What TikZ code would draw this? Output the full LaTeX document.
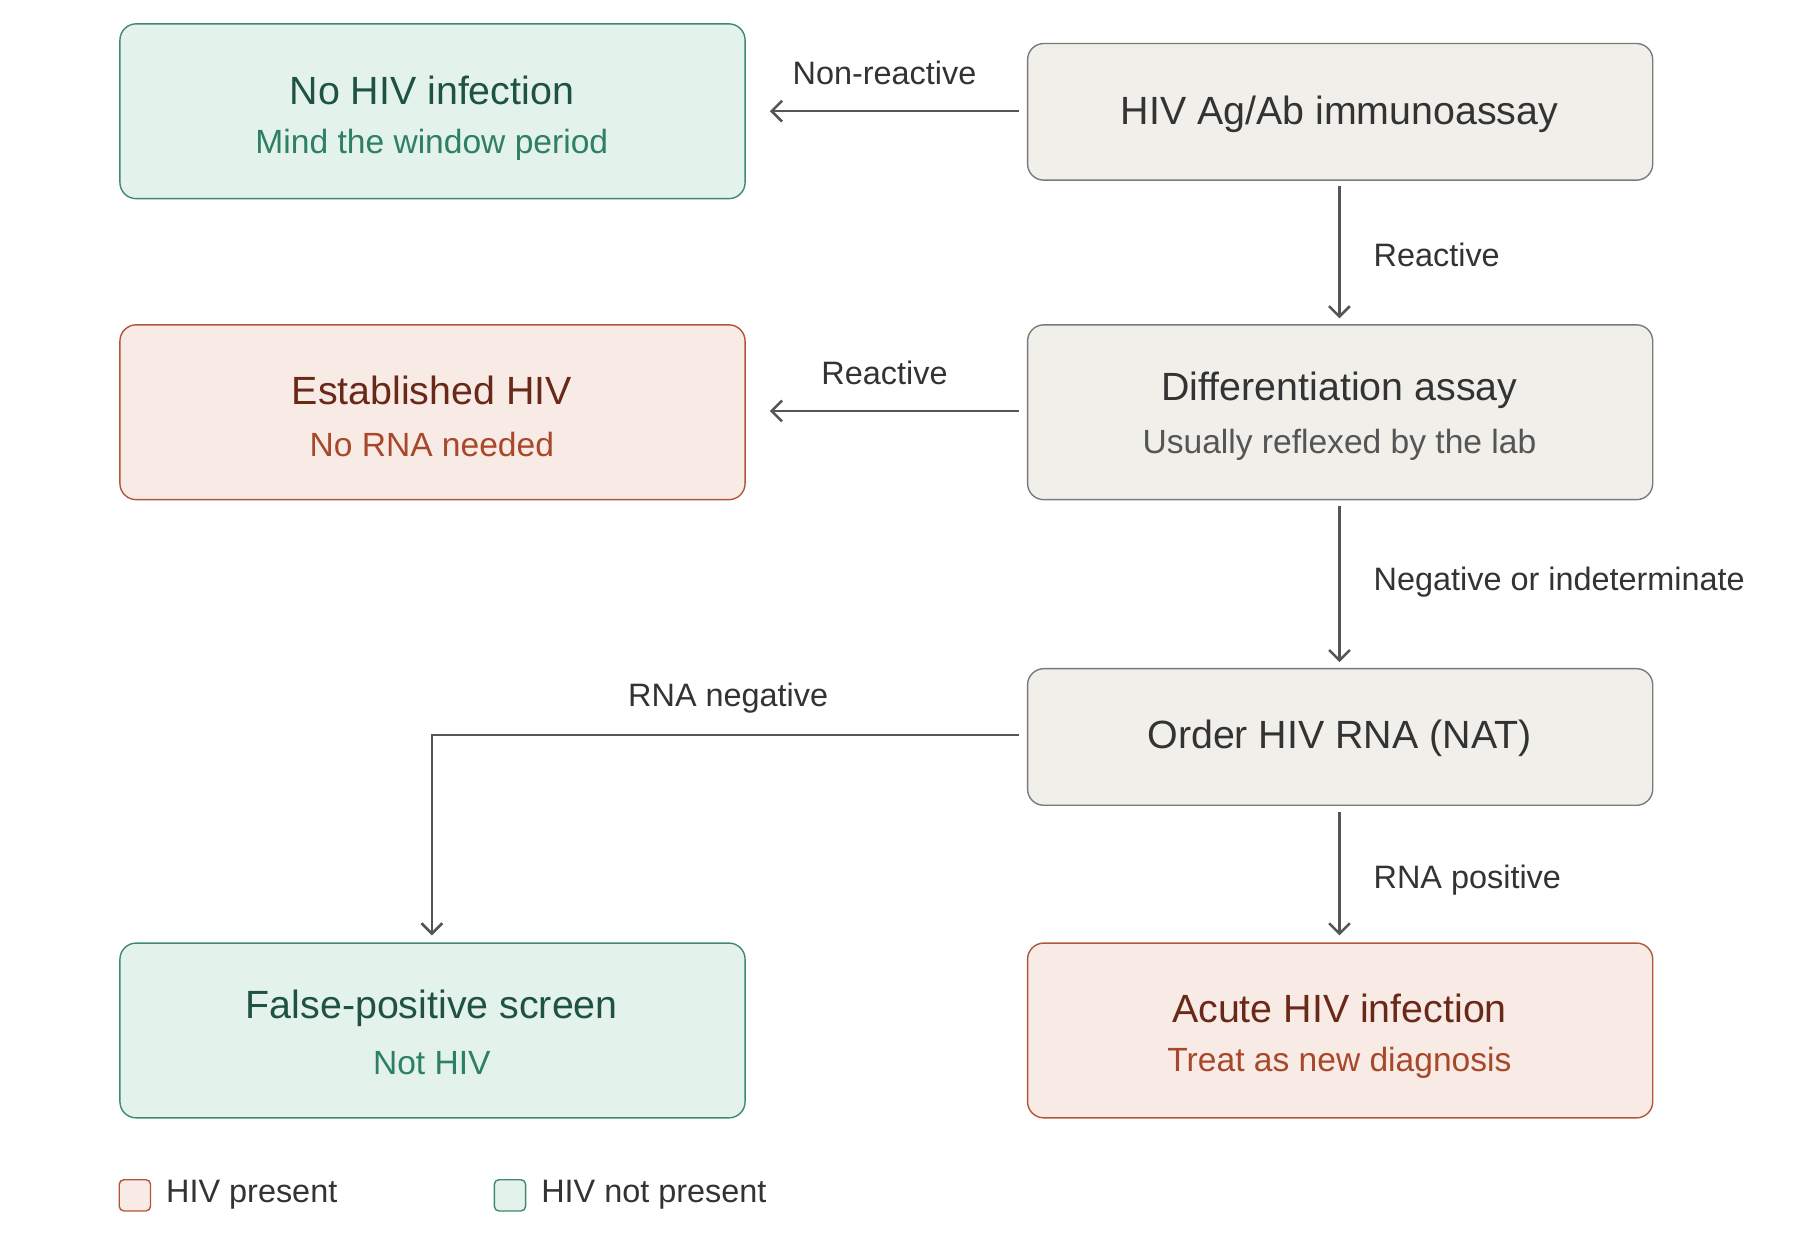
\documentclass[tikz,border=0pt]{standalone}
\usepackage{fontspec}
\setmainfont{Liberation Sans}
\usetikzlibrary{arrows.meta}
\definecolor{gfill}{HTML}{E4F2EC}\definecolor{gdraw}{HTML}{3E8A6E}
\definecolor{gtitle}{HTML}{1E5243}\definecolor{gsub}{HTML}{2E8064}
\definecolor{rfill}{HTML}{F8EAE5}\definecolor{rdraw}{HTML}{B0563A}
\definecolor{rtitle}{HTML}{6A2818}\definecolor{rsub}{HTML}{A8482A}
\definecolor{nfill}{HTML}{F0EFEA}\definecolor{ndraw}{HTML}{7A7A7A}
\definecolor{ntext}{HTML}{333333}\definecolor{nsub}{HTML}{555555}
\definecolor{arr}{HTML}{555555}
\begin{document}
\begin{tikzpicture}[x=1pt,y=-1pt,
 box/.style={rounded corners=14pt,line width=1.2pt,minimum width=540pt,anchor=north west,inner sep=0pt},
 gbox/.style={box,fill=gfill,draw=gdraw},
 rbox/.style={box,fill=rfill,draw=rdraw},
 nbox/.style={box,fill=nfill,draw=ndraw},
 ttl/.style={font=\fontsize{34}{40}\selectfont},
 sub/.style={font=\fontsize{29}{34}\selectfont},
 lab/.style={font=\fontsize{28}{32}\selectfont,text=ntext},
 ar/.style={draw=arr,line width=2.2pt,-{Straight Barb[length=9pt,width=18pt,line width=2.2pt]}}]
\useasboundingbox (0,0) rectangle (1560,1078);
\node[gbox,minimum height=151pt] (nohiv) at (103,20) {};
\node[ttl,text=gtitle] at (373,78) {No HIV infection};
\node[sub,text=gsub] at (373,125) {Mind the window period};
\node[nbox,minimum height=118pt] (ag) at (887,37) {};
\node[ttl,text=ntext] at (1157,99) {HIV Ag/Ab immunoassay};
\node[rbox,minimum height=151pt] (est) at (103,280) {};
\node[ttl,text=rtitle] at (373,337) {Established HIV};
\node[sub,text=rsub] at (373,384) {No RNA needed};
\node[nbox,minimum height=151pt] (diff) at (887,280) {};
\node[ttl,text=ntext] at (1157,337) {Differentiation assay};
\node[sub,text=nsub] at (1157,384) {Usually reflexed by the lab};
\node[nbox,minimum height=118pt] (rna) at (887,577) {};
\node[ttl,text=ntext] at (1157,638) {Order HIV RNA (NAT)};
\node[gbox,minimum height=151pt] (fp) at (103,814) {};
\node[ttl,text=gtitle] at (373,871) {False-positive screen};
\node[sub,text=gsub] at (373,918) {Not HIV};
\node[rbox,minimum height=151pt] (acute) at (887,814) {};
\node[ttl,text=rtitle] at (1157,871) {Acute HIV infection};
\node[sub,text=rsub] at (1157,918) {Treat as new diagnosis};
\coordinate (a1s) at (880,96);\coordinate (a1e) at (665,96);
\draw[ar] (a1s) -- (a1e);
\node[lab] at (764,63) {Non-reactive};
\coordinate (a2s) at (1157,161);\coordinate (a2e) at (1157,275);
\draw[ar] (a2s) -- (a2e);
\node[lab,anchor=west] at (1183,220) {Reactive};
\coordinate (a3s) at (880,355);\coordinate (a3e) at (665,355);
\draw[ar] (a3s) -- (a3e);
\node[lab] at (764,322) {Reactive};
\coordinate (a4s) at (1157,437);\coordinate (a4e) at (1157,572);
\draw[ar] (a4s) -- (a4e);
\node[lab,anchor=west] at (1183,503) {Negative or indeterminate};
\coordinate (a5s) at (880,635);\coordinate (a5e) at (373,808);
\draw[ar] (a5s) -| (a5e);
\node[lab] at (629,603) {RNA negative};
\coordinate (a6s) at (1157,701);\coordinate (a6e) at (1157,808);
\draw[ar] (a6s) -- (a6e);
\node[lab,anchor=west] at (1183,760) {RNA positive};
\draw[rounded corners=4pt,fill=rfill,draw=rdraw,line width=1.2pt] (103,1019) rectangle (130,1046);
\node[lab,anchor=west] (lp) at (140,1032) {HIV present};
\draw[rounded corners=4pt,fill=gfill,draw=gdraw,line width=1.2pt] (427,1019) rectangle (454,1046);
\node[lab,anchor=west] (ln) at (464,1032) {HIV not present};
\end{tikzpicture}
\end{document}
